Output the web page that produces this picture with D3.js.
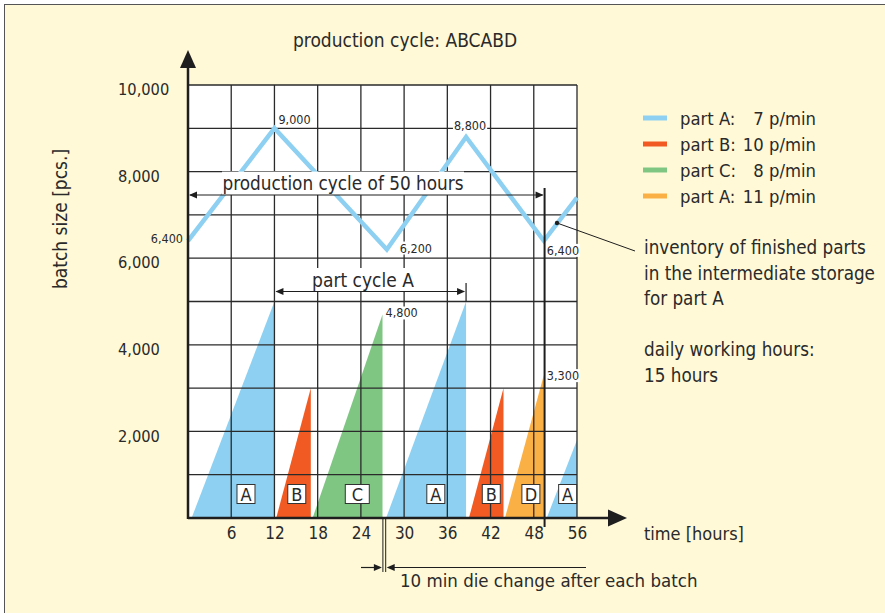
<!DOCTYPE html>
<html><head><meta charset="utf-8">
<script src="https://cdn.jsdelivr.net/npm/d3@7"></script>
<style>
html,body{margin:0;padding:0;background:#fff;}
svg{display:block;}
text{font-family:"Liberation Sans Narrow","DejaVu Sans Condensed","Arial Narrow",sans-serif;fill:#2a2a2a;}
</style></head><body>
<svg id="c" width="885" height="613"></svg>
<script>
// ---- data ----
const xTicks = [6,12,18,24,30,36,42,48,54];
const xTickLabels = ["6","12","18","24","30","36","42","48","56"];
const yTicks = [2000,4000,6000,8000,10000];
const yTickLabels = ["2,000","4,000","6,000","8,000","10,000"];
const invHours = [0,12,27.6,38.6,49.4,54];
const invValues = [6400,9000,6200,8800,6400,7400];
const invLabels = ["6,400","9,000","6,200","8,800","6,400",""];
const batchParts = ["A","B","C","A","B","D","A"];
const batchStart = [0.5,12.25,17.3,27.5,39.0,44.0,49.8];
const batchEnd = [12,17.05,27.0,38.6,43.8,49.4,54];
const batchPeak = [5000,3000,4700,5000,3000,3300,1800];
const batchPeakLabels = ["","","4,800","","","3,300",""];
const boxHours = [8.05,15.1,23.5,34.4,42.1,47.6,52.7];
const legendKeys = ["A","B","C","D"];
const legendParts = ["part A:","part B:","part C:","part A:"];
const legendRates = ["7 p/min","10 p/min","8 p/min","11 p/min"];
const cycleEnd = 49.5;
const partCycle = [12, 38.6];
const dieChangeHour = 27.25;
const colors = {A:"#8dd0f1",B:"#f15a22",C:"#80c683",D:"#fbb045"};

// ---- drawing ----
const svg = d3.select("#c");
const x = d3.scaleLinear().domain([0,54]).range([188,577]);
const y = d3.scaleLinear().domain([0,10000]).range([518,85]);
const ink = "#1e1e1e";

svg.append("rect").attr("x",4.5).attr("y",4.5).attr("width",1000).attr("height",1000)
  .attr("fill","#fff9d7").attr("stroke","#555").attr("stroke-width",1);

svg.append("rect").attr("x",x(0)).attr("y",y(10000)).attr("width",x(54)-x(0)).attr("height",y(0)-y(10000)).attr("fill","#fff");

// batches
const batches = batchParts.map((p,i)=>({p, s:batchStart[i], e:batchEnd[i], v:batchPeak[i]}));
svg.append("g").selectAll("polygon").data(batches).join("polygon")
  .attr("points", d=>[[x(d.s),y(0)],[x(d.e),y(d.v)],[x(d.e),y(0)]].join(" "))
  .attr("fill", d=>colors[d.p]);

// grid
const g = svg.append("g").attr("stroke","#2a2a2a").attr("stroke-width",1.3);
g.selectAll(".v").data(xTicks).join("line").attr("class","v")
  .attr("x1",d=>x(d)).attr("x2",d=>x(d)).attr("y1",y(0)).attr("y2",y(10000));
g.selectAll(".h").data(y.ticks(10).filter(d=>d>0)).join("line").attr("class","h")
  .attr("x1",x(0)).attr("x2",x(54)).attr("y1",d=>y(d)).attr("y2",d=>y(d));

// batch boxes
const bx = svg.append("g");
batchParts.forEach((p,i)=>{
  const w = p==="C"?24:18, cx = x(boxHours[i]), cy = 494;
  bx.append("rect").attr("x",cx-w/2).attr("y",cy-9.5).attr("width",w).attr("height",19)
    .attr("fill","#fff").attr("stroke","#333").attr("stroke-width",1);
  bx.append("text").attr("x",cx).attr("y",cy+6.5).attr("text-anchor","middle")
    .attr("font-size",18).text(p);
});

// inventory line
const pts = invHours.map((h,i)=>[h,invValues[i]]);
svg.append("path").attr("d", d3.line().x(d=>x(d[0])).y(d=>y(d[1]))(pts))
  .attr("fill","none").attr("stroke",colors.A).attr("stroke-width",4.5).attr("stroke-linejoin","miter");

// small labels
function smallLabel(t, px, py, anchor, bg){
  const tx = svg.append("text").attr("x",px).attr("y",py+4).attr("text-anchor",anchor)
    .attr("font-size",12.5).text(t);
  if(bg){
    const b = tx.node().getBBox();
    svg.insert("rect", ()=>tx.node()).attr("x",b.x-1).attr("y",b.y+1).attr("width",b.width+2).attr("height",b.height-2).attr("fill","#fff");
  }
}
const invOff = [[-5,-2,"end",false],[4,-8,"start",true],[13,-1,"start",true],[4,-11,"middle",true],[3,10,"start",true]];
invLabels.forEach((t,i)=>{ if(!t) return; const o=invOff[i];
  smallLabel(t, x(invHours[i])+o[0], y(invValues[i])+o[1], o[2], o[3]); });
batchPeakLabels.forEach((t,i)=>{ if(!t) return; smallLabel(t, x(batchEnd[i])+3, y(batchPeak[i])+(i===2?-1:1), "start", true); });

// arrow helper
function arrowHead(tipX, tipY, dir, len, half){
  svg.append("polygon").attr("points", [[tipX,tipY],[tipX-dir*len,tipY-half],[tipX-dir*len,tipY+half]].join(" ")).attr("fill",ink);
}

// production cycle of 50 hours
svg.append("rect").attr("x",222).attr("y",y(8000)).attr("width",242).attr("height",195-y(8000)).attr("fill","#fff");
svg.append("text").attr("x",343).attr("y",190).attr("text-anchor","middle").attr("font-size",18.8).text("production cycle of 50 hours");
svg.append("line").attr("x1",x(0)+2).attr("x2",x(cycleEnd)-2).attr("y1",195).attr("y2",195).attr("stroke",ink).attr("stroke-width",1.2);
arrowHead(x(0)+1,195,-1,8,3.5);
arrowHead(x(cycleEnd)-1,195,1,8,3.5);
svg.append("line").attr("x1",x(cycleEnd)).attr("x2",x(cycleEnd)).attr("y1",188).attr("y2",527).attr("stroke",ink).attr("stroke-width",2);

// part cycle A
const pcx = 363;
svg.append("rect").attr("x",pcx-52).attr("y",268).attr("width",104).attr("height",23).attr("fill","#fff");
svg.append("text").attr("x",pcx).attr("y",287).attr("text-anchor","middle").attr("font-size",19).text("part cycle A");
svg.append("line").attr("x1",x(partCycle[0])+2).attr("x2",x(partCycle[1])-2).attr("y1",291.5).attr("y2",291.5).attr("stroke",ink).attr("stroke-width",1.2);
arrowHead(x(partCycle[0])+1,291.5,-1,8,3.5);
arrowHead(x(partCycle[1])-1,291.5,1,8,3.5);
svg.append("line").attr("x1",x(partCycle[1])).attr("x2",x(partCycle[1])).attr("y1",283).attr("y2",301).attr("stroke",ink).attr("stroke-width",1.2);

// axes
svg.append("line").attr("x1",x(0)).attr("x2",610).attr("y1",y(0)).attr("y2",y(0)).attr("stroke",ink).attr("stroke-width",2.5);
arrowHead(627,y(0),1,19,8.5);
svg.append("line").attr("x1",x(0)).attr("x2",x(0)).attr("y1",y(0)+1).attr("y2",66).attr("stroke",ink).attr("stroke-width",2.5);
svg.append("polygon").attr("points",[[x(0),50],[x(0)-8,68],[x(0)+8,68]].join(" ")).attr("fill",ink);

const xa = svg.append("g").attr("transform",`translate(0,${y(0)})`)
  .call(d3.axisBottom(x).tickValues(xTicks).tickFormat((d,i)=>xTickLabels[i]).tickSize(0).tickPadding(9));
xa.select(".domain").remove();
xa.attr("font-family",null);
xa.selectAll("text").attr("font-size",17).attr("fill","#2a2a2a");

const ya = svg.append("g").attr("transform",`translate(118,0)`)
  .call(d3.axisLeft(y).tickValues(yTicks).tickFormat((d,i)=>yTickLabels[i]).tickSize(0));
ya.select(".domain").remove();
ya.attr("font-family",null);
ya.selectAll("text").attr("text-anchor","start").attr("x",0).attr("dy","0.6em").attr("font-size",16.3).attr("fill","#2a2a2a");

// die change
const dc = x(dieChangeHour);
svg.append("line").attr("x1",dc-1.4).attr("x2",dc-1.4).attr("y1",y(0)).attr("y2",572).attr("stroke",ink).attr("stroke-width",1);
svg.append("line").attr("x1",dc+1.4).attr("x2",dc+1.4).attr("y1",y(0)).attr("y2",572).attr("stroke",ink).attr("stroke-width",1);
svg.append("line").attr("x1",361).attr("x2",dc-4).attr("y1",567.5).attr("y2",567.5).attr("stroke",ink).attr("stroke-width",1.2);
arrowHead(dc-2.4,567.5,1,8,3.5);
svg.append("line").attr("x1",dc+4).attr("x2",586).attr("y1",567.5).attr("y2",567.5).attr("stroke",ink).attr("stroke-width",1.2);
arrowHead(dc+2.4,567.5,-1,8,3.5);
svg.append("text").attr("x",400).attr("y",587).attr("font-size",18.5).text("10 min die change after each batch");

// titles
svg.append("text").attr("x",405).attr("y",47).attr("text-anchor","middle").attr("font-size",19).text("production cycle: ABCABD");
svg.append("text").attr("transform","translate(67,219) rotate(-90)").attr("text-anchor","middle").attr("font-size",19).text("batch size [pcs.]");
svg.append("text").attr("x",644).attr("y",540).attr("font-size",18).text("time [hours]");

// legend
legendKeys.forEach((k,i)=>{
  const ly = 118 + i*26;
  svg.append("line").attr("x1",643).attr("x2",667).attr("y1",ly).attr("y2",ly).attr("stroke",colors[k]).attr("stroke-width",5);
  svg.append("text").attr("x",680).attr("y",ly+7).attr("font-size",18.3).text(legendParts[i]);
  svg.append("text").attr("x",816).attr("y",ly+7).attr("text-anchor","end").attr("font-size",18.3).text(legendRates[i]);
});

// annotation
svg.append("line").attr("x1",557).attr("y1",223).attr("x2",635).attr("y2",251).attr("stroke",ink).attr("stroke-width",1);
svg.append("circle").attr("cx",557).attr("cy",223).attr("r",2.2).attr("fill",ink);
const notes = ["inventory of finished parts","in the intermediate storage","for part A","","daily working hours:","15 hours"];
notes.forEach((t,i)=>{ if(t) svg.append("text").attr("x",644).attr("y",254+i*25.5).attr("font-size",18.7).text(t); });
</script>
</body></html>
